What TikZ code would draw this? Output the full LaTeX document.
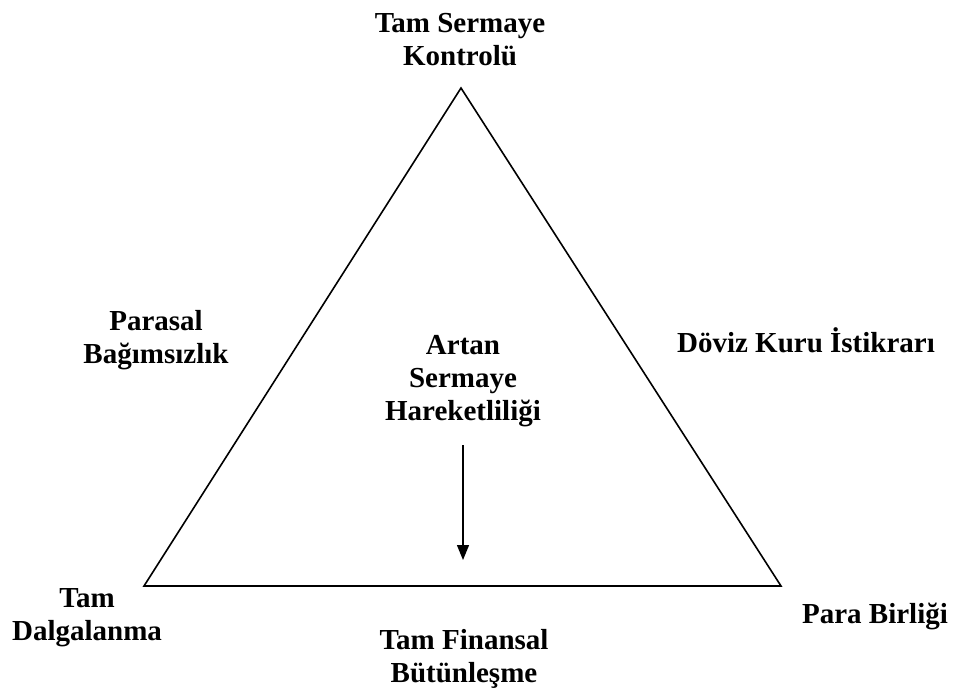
\documentclass[tikz,border=0pt]{standalone}
\usepackage{fontspec}
\setmainfont{Liberation Serif}
\usetikzlibrary{arrows.meta}
\begin{document}
\begin{tikzpicture}[x=1pt,y=-1pt,
  lbl/.style={font=\bfseries\fontsize{29}{33}\selectfont, align=center, inner sep=0pt, anchor=base},
  side/.style={line width=1.6pt, line join=miter},
  arr/.style={line width=1.3pt, -{Triangle[length=15pt,width=12pt]}}]
\useasboundingbox (0,0) rectangle (954,691);
\coordinate (A) at (461,88);
\coordinate (B) at (144,586);
\coordinate (C) at (781,586);
\draw[side] (A) -- (B) -- (C) -- cycle;
\node[lbl] (top) at (460,65) {Tam Sermaye\\Kontrolü};
\node[lbl] (left) at (156,363) {Parasal\\Bağımsızlık};
\node[lbl] (right) at (806,352) {Döviz Kuru İstikrarı};
\node[lbl] (mid) at (463,420) {Artan\\Sermaye\\Hareketliliği};
\node[lbl] (bl) at (87,640) {Tam\\Dalgalanma};
\node[lbl] (bot) at (464,682) {Tam Finansal\\Bütünleşme};
\node[lbl] (br) at (875,623) {Para Birliği};
\coordinate (as) at (463,445);
\coordinate (ae) at (463,560);
\draw[arr] (as) -- (ae);
\end{tikzpicture}
\end{document}
